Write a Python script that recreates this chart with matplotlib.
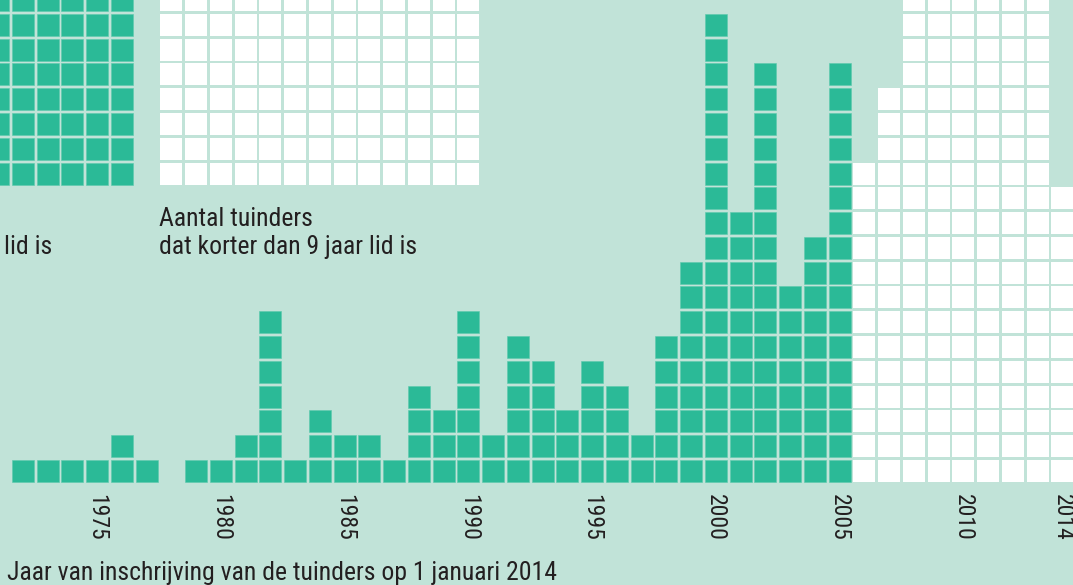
import numpy as np
import matplotlib
matplotlib.use("Agg")
import matplotlib.pyplot as plt

# --- data ---
years = np.arange(1972, 2015)
# tuinders die langer dan 9 jaar lid zijn (inschrijving t/m 2005)
long_counts = [1, 1, 1, 1, 2, 1, 0, 1, 1, 2, 7, 1, 3, 2, 2, 1, 4, 3, 7, 2,
               6, 5, 3, 5, 4, 2, 6, 9, 19, 11, 17, 8, 10, 17,
               0, 0, 0, 0, 0, 0, 0, 0, 0]
# korter dan 9 jaar lid (2006-2014); 2008-2013 lopen buiten beeld (>= 20)
short_counts = [0] * 34 + [13, 16, 20, 20, 20, 20, 20, 20, 12]

# legenda-blokken bovenaan (vallen gedeeltelijk buiten beeld)
legend_long_years = np.arange(1971, 1977)
legend_short_years = np.arange(1978, 1991)
legend_rows = np.arange(12, 20)

tick_years = [1975, 1980, 1985, 1990, 1995, 2000, 2005, 2010, 2014]

BG = '#c1e3d8'
TEAL = '#2bba97'
WHITE = '#ffffff'
TXT = '#231f20'
FONT = ['Roboto Condensed', 'Roboto', 'DejaVu Sans']

plt.rcParams['font.family'] = FONT

fig = plt.figure(figsize=(10.73, 5.85), dpi=100, facecolor=BG)
ax = fig.add_axes([0, 0, 1, 1])
ax.set_facecolor(BG)

W = 22 / 24.75   # breedte blokje (jaar-eenheden)
H = 22 / 24.8    # hoogte blokje (rij-eenheden)

long_counts = np.array(long_counts)
short_counts = np.array(short_counts)

for k in range(int(max(long_counts.max(), short_counts.max()))):
    m = long_counts > k
    ax.bar(years[m], H, bottom=k, width=W, color=TEAL, align='center',
           edgecolor='#5cc9ad', linewidth=0.4)
    m = short_counts > k
    ax.bar(years[m], H, bottom=k, width=W, color=WHITE, align='center',
           linewidth=0)

for k in legend_rows:
    ax.bar(legend_long_years, H, bottom=k, width=W, color=TEAL,
           edgecolor='#5cc9ad', linewidth=0.4)
    ax.bar(legend_short_years, H, bottom=k, width=W, color=WHITE, linewidth=0)

ax.set_xlim(1971.08, 2014.43)
ax.set_ylim(-4.15, 19.44)
ax.axis('off')

for yr in tick_years:
    ax.text(yr, -0.47, str(yr), rotation=270, ha='center', va='top',
            fontsize=17, color=TXT)

ax.text(1971.25, 9.2, "lid is", fontsize=18.5, color=TXT, va='baseline')
ax.text(1977.5, 10.33, "Aantal tuinders", fontsize=18.5, color=TXT, va='baseline')
ax.text(1977.5, 9.2, "dat korter dan 9 jaar lid is", fontsize=18.5, color=TXT,
        va='baseline')

ax.text(1971.38, -3.95, "Jaar van inschrijving van de tuinders op 1 januari 2014",
        fontsize=18.5, color=TXT, va='baseline')

fig.savefig("out.png", dpi=100, facecolor=BG)
